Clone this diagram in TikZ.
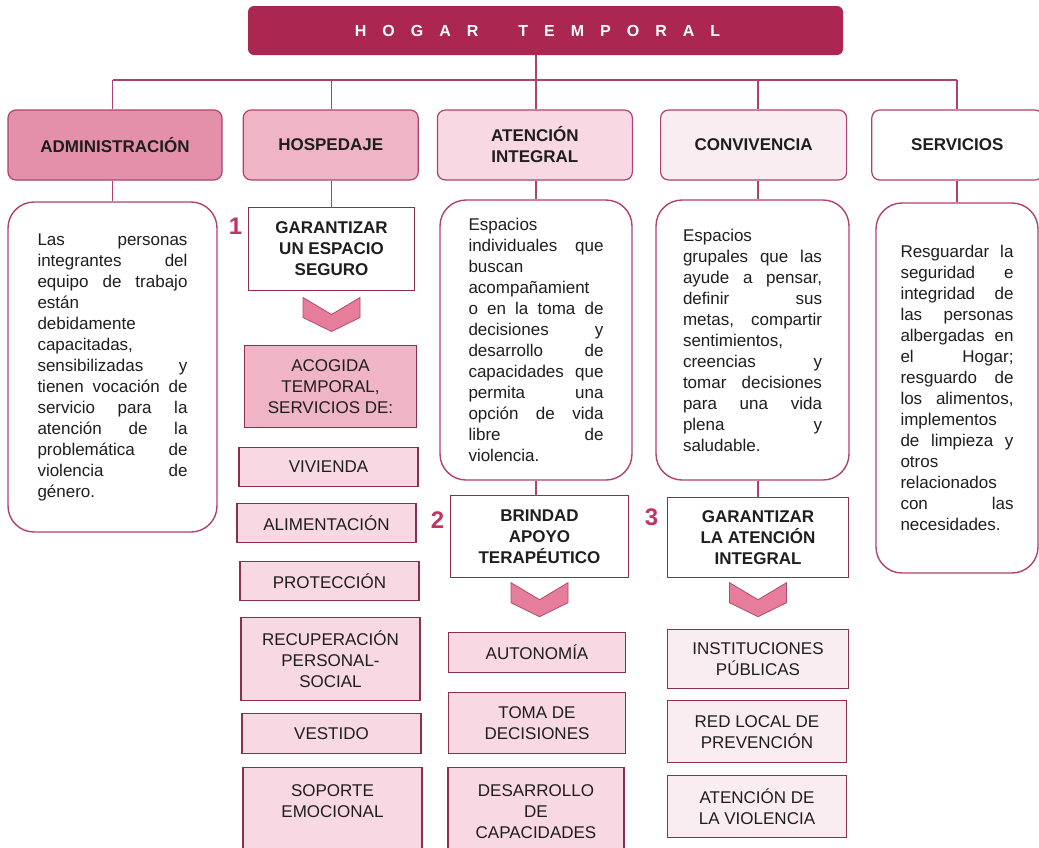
\documentclass[tikz,border=0pt]{standalone}
\usepackage{fontspec}
\setmainfont{Liberation Sans}
\usetikzlibrary{positioning,calc}

\definecolor{ttlred}{HTML}{AB2751}
\definecolor{lnred}{HTML}{B0416F}
\definecolor{bxred}{HTML}{8E2E4E}
\definecolor{pkA}{HTML}{E590AA}
\definecolor{pkB}{HTML}{EFB5C7}
\definecolor{pkC}{HTML}{F8D8E2}
\definecolor{pkD}{HTML}{FAEDF2}
\definecolor{chevpk}{HTML}{E57D9B}
\definecolor{chevdk}{HTML}{B24A70}
\definecolor{numred}{HTML}{C03462}
\definecolor{inkgray}{HTML}{1E1E1E}

\newcommand{\tsp}{\hspace{16pt}}

\begin{document}
\begin{tikzpicture}[
  x=1pt, y=-1pt,
  every node/.style={align=center, text=inkgray},
  conn/.style={draw=lnred, line width=1.3pt},
  hdr/.style={rectangle, draw=lnred, rounded corners=8pt, line width=1.2pt, minimum height=70pt, inner sep=2pt, font=\fontsize{17}{21}\selectfont\bfseries},
  txtbox/.style={rectangle, draw=lnred, fill=white, rounded corners=26pt, line width=1.4pt, inner sep=0pt, align=justify, font=\fontsize{17}{21}\selectfont},
  goalbox/.style={rectangle, draw=bxred, fill=white, line width=1.2pt, inner sep=2pt, outer sep=0pt, font=\fontsize{17}{21}\selectfont\bfseries},
  itembox/.style={rectangle, draw=bxred, fill=pkC, line width=1.2pt, minimum width=179pt, inner sep=2pt, outer sep=0pt, font=\fontsize{17}{21}\selectfont},
  numlbl/.style={inner sep=0pt, text=numred, font=\fontsize{24}{24}\selectfont\bfseries},
  chevron/.pic={\filldraw[fill=chevpk, draw=chevdk, line width=0.8pt] (-28.5,0) -- (0,17) -- (28.5,0) -- (28.5,20) -- (0,34) -- (-28.5,20) -- cycle;}
]
  \useasboundingbox (0,0) rectangle (1039,847);

  % Title bar
  \node[fill=ttlred, rounded corners=6pt, minimum width=595pt, minimum height=49pt, text=white, font=\fontsize{16}{16}\selectfont\bfseries] (title) at (545.5,30.5)
    {H\tsp O\tsp G\tsp A\tsp R\hspace{40pt}T\tsp E\tsp M\tsp P\tsp O\tsp R\tsp A\tsp L\tsp\mbox{}};

  % Area headers (one row)
  \node[hdr, fill=pkA, minimum width=214pt] (hd1) at (115,145) {ADMINISTRACIÓN};
  \node[hdr, fill=pkB, minimum width=175pt, right=20pt of hd1] (hd2) {HOSPEDAJE};
  \node[hdr, fill=pkC, minimum width=195pt, right=18pt of hd2] (hd3) {ATENCIÓN\\INTEGRAL};
  \node[hdr, fill=pkD, minimum width=186pt, right=27pt of hd3] (hd4) {CONVIVENCIA};
  \node[hdr, fill=white, minimum width=171pt, right=24pt of hd4] (hd5) {SERVICIOS};

  % Description boxes
  \node[txtbox, text width=150pt, minimum width=209pt, minimum height=330pt] (t1) at (112.5,367)
    {Las personas\linebreak integrantes del\linebreak equipo de trabajo\linebreak están\linebreak debidamente\linebreak capacitadas,\linebreak sensibilizadas y\linebreak tienen vocación de\linebreak servicio para la\linebreak atención de la\linebreak problemática de\linebreak violencia de\linebreak género.};
  \node[txtbox, text width=135pt, minimum width=192pt, minimum height=280pt] (t3) at (536,340)
    {Espacios\linebreak individuales que\linebreak buscan\linebreak acompañamient\linebreak o en la toma de\linebreak decisiones y\linebreak desarrollo de\linebreak capacidades que\linebreak permita una\linebreak opción de vida\linebreak libre de\linebreak violencia.};
  \node[txtbox, text width=139pt, minimum width=193pt, minimum height=280pt] (t4) at (752.5,340)
    {Espacios\linebreak grupales que las\linebreak ayude a pensar,\linebreak definir sus\linebreak metas, compartir\linebreak sentimientos,\linebreak creencias y\linebreak tomar decisiones\linebreak para una vida\linebreak plena y\linebreak saludable.};
  \node[txtbox, text width=113pt, minimum width=162pt, minimum height=370pt] (t5) at (957,388)
    {Resguardar la\linebreak seguridad e\linebreak integridad de\linebreak las personas\linebreak albergadas en\linebreak el Hogar;\linebreak resguardo de\linebreak los alimentos,\linebreak implementos\linebreak de limpieza y\linebreak otros\linebreak relacionados\linebreak con las\linebreak necesidades.};

  % Goal 1: Hospedaje column
  \node[goalbox, minimum width=166pt, minimum height=83pt] (g1) at (331.5,249) {GARANTIZAR\\UN ESPACIO\\SEGURO};
  \node[numlbl, anchor=east] (n1) at ([xshift=-6pt,yshift=-19pt]g1.north west) {1};
  \pic at ([yshift=-7pt]g1.south) {chevron};
  \node[itembox, fill=pkB, minimum width=172pt, minimum height=82pt, below=55pt of g1, xshift=-1pt] (acog) {ACOGIDA\\TEMPORAL,\\SERVICIOS DE:};
  \node[itembox, minimum height=39pt, below=20pt of acog, xshift=-2pt] (viv) {VIVIENDA};
  \node[itembox, minimum height=39pt, below=17pt of viv, xshift=-2pt] (ali) {ALIMENTACIÓN};
  \node[itembox, minimum height=39pt, below=19pt of ali, xshift=3pt] (pro) {PROTECCIÓN};
  \node[itembox, minimum height=83pt, below=17pt of pro, xshift=1pt] (rec) {RECUPERACIÓN\\PERSONAL-\\SOCIAL};
  \node[itembox, minimum height=40pt, below=13pt of rec, xshift=1pt] (ves) {VESTIDO};
  \node[itembox, minimum height=88pt, below=14pt of ves, xshift=1pt] (sop) {SOPORTE\\EMOCIONAL\\\mbox{}};

  % Goal 2: Atencion integral column
  \node[goalbox, minimum width=178pt, minimum height=82pt, below=15pt of t3, xshift=3.5pt] (g2) {BRINDAD\\APOYO\\TERAPÉUTICO};
  \node[numlbl, anchor=east] (n2) at ([xshift=-6pt,yshift=-24pt]g2.north west) {2};
  \pic at ([yshift=-5pt]g2.south) {chevron};
  \node[itembox, minimum width=177pt, minimum height=40pt, below=55pt of g2, xshift=-2.5pt] (aut) {AUTONOMÍA};
  \node[itembox, minimum width=177pt, minimum height=61pt, below=20pt of aut] (tom) {TOMA DE\\DECISIONES};
  \node[itembox, minimum width=176pt, minimum height=88pt, below=14pt of tom, xshift=-1pt] (des) {DESARROLLO\\DE\\CAPACIDADES};

  % Goal 3: Convivencia column
  \node[goalbox, minimum width=181pt, minimum height=80pt, below=17pt of t4, xshift=5.5pt] (g3) {GARANTIZAR\\LA ATENCIÓN\\INTEGRAL};
  \node[numlbl, anchor=east] (n3) at ([xshift=-9pt,yshift=-20pt]g3.north west) {3};
  \pic at ([yshift=-5pt]g3.south) {chevron};
  \node[itembox, fill=pkD, minimum width=181pt, minimum height=59pt, below=52pt of g3] (ins) {INSTITUCIONES\\PÚBLICAS};
  \node[itembox, fill=pkD, minimum height=62pt, below=12pt of ins, xshift=-1pt] (red) {RED LOCAL DE\\PREVENCIÓN};
  \node[itembox, fill=pkD, minimum height=62pt, below=13pt of red] (atv) {ATENCIÓN DE\\LA VIOLENCIA};

  % Connectors: title bus and column drops
  \coordinate (bus) at (0,80);
  \draw[conn] (title.south -| t3.north) -- (t3.north |- bus);
  \draw[conn] (t1.north |- bus) -- (t5.north |- bus);
  \foreach \hd/\fst/\xr in {hd1/t1/t1, hd2/g1/g1, hd3/t3/t3, hd4/t4/g3, hd5/t5/t5} {
    \draw[conn] (\xr.north |- bus) -- (\xr.north |- \hd.north);
    \draw[conn] (\xr.north |- \hd.south) -- (\xr.north |- \fst.north);
  }
  \draw[conn] (t3.south) -- (t3.south |- g2.north);
  \draw[conn] (g3.north |- t4.south) -- (g3.north);
\end{tikzpicture}
\end{document}
